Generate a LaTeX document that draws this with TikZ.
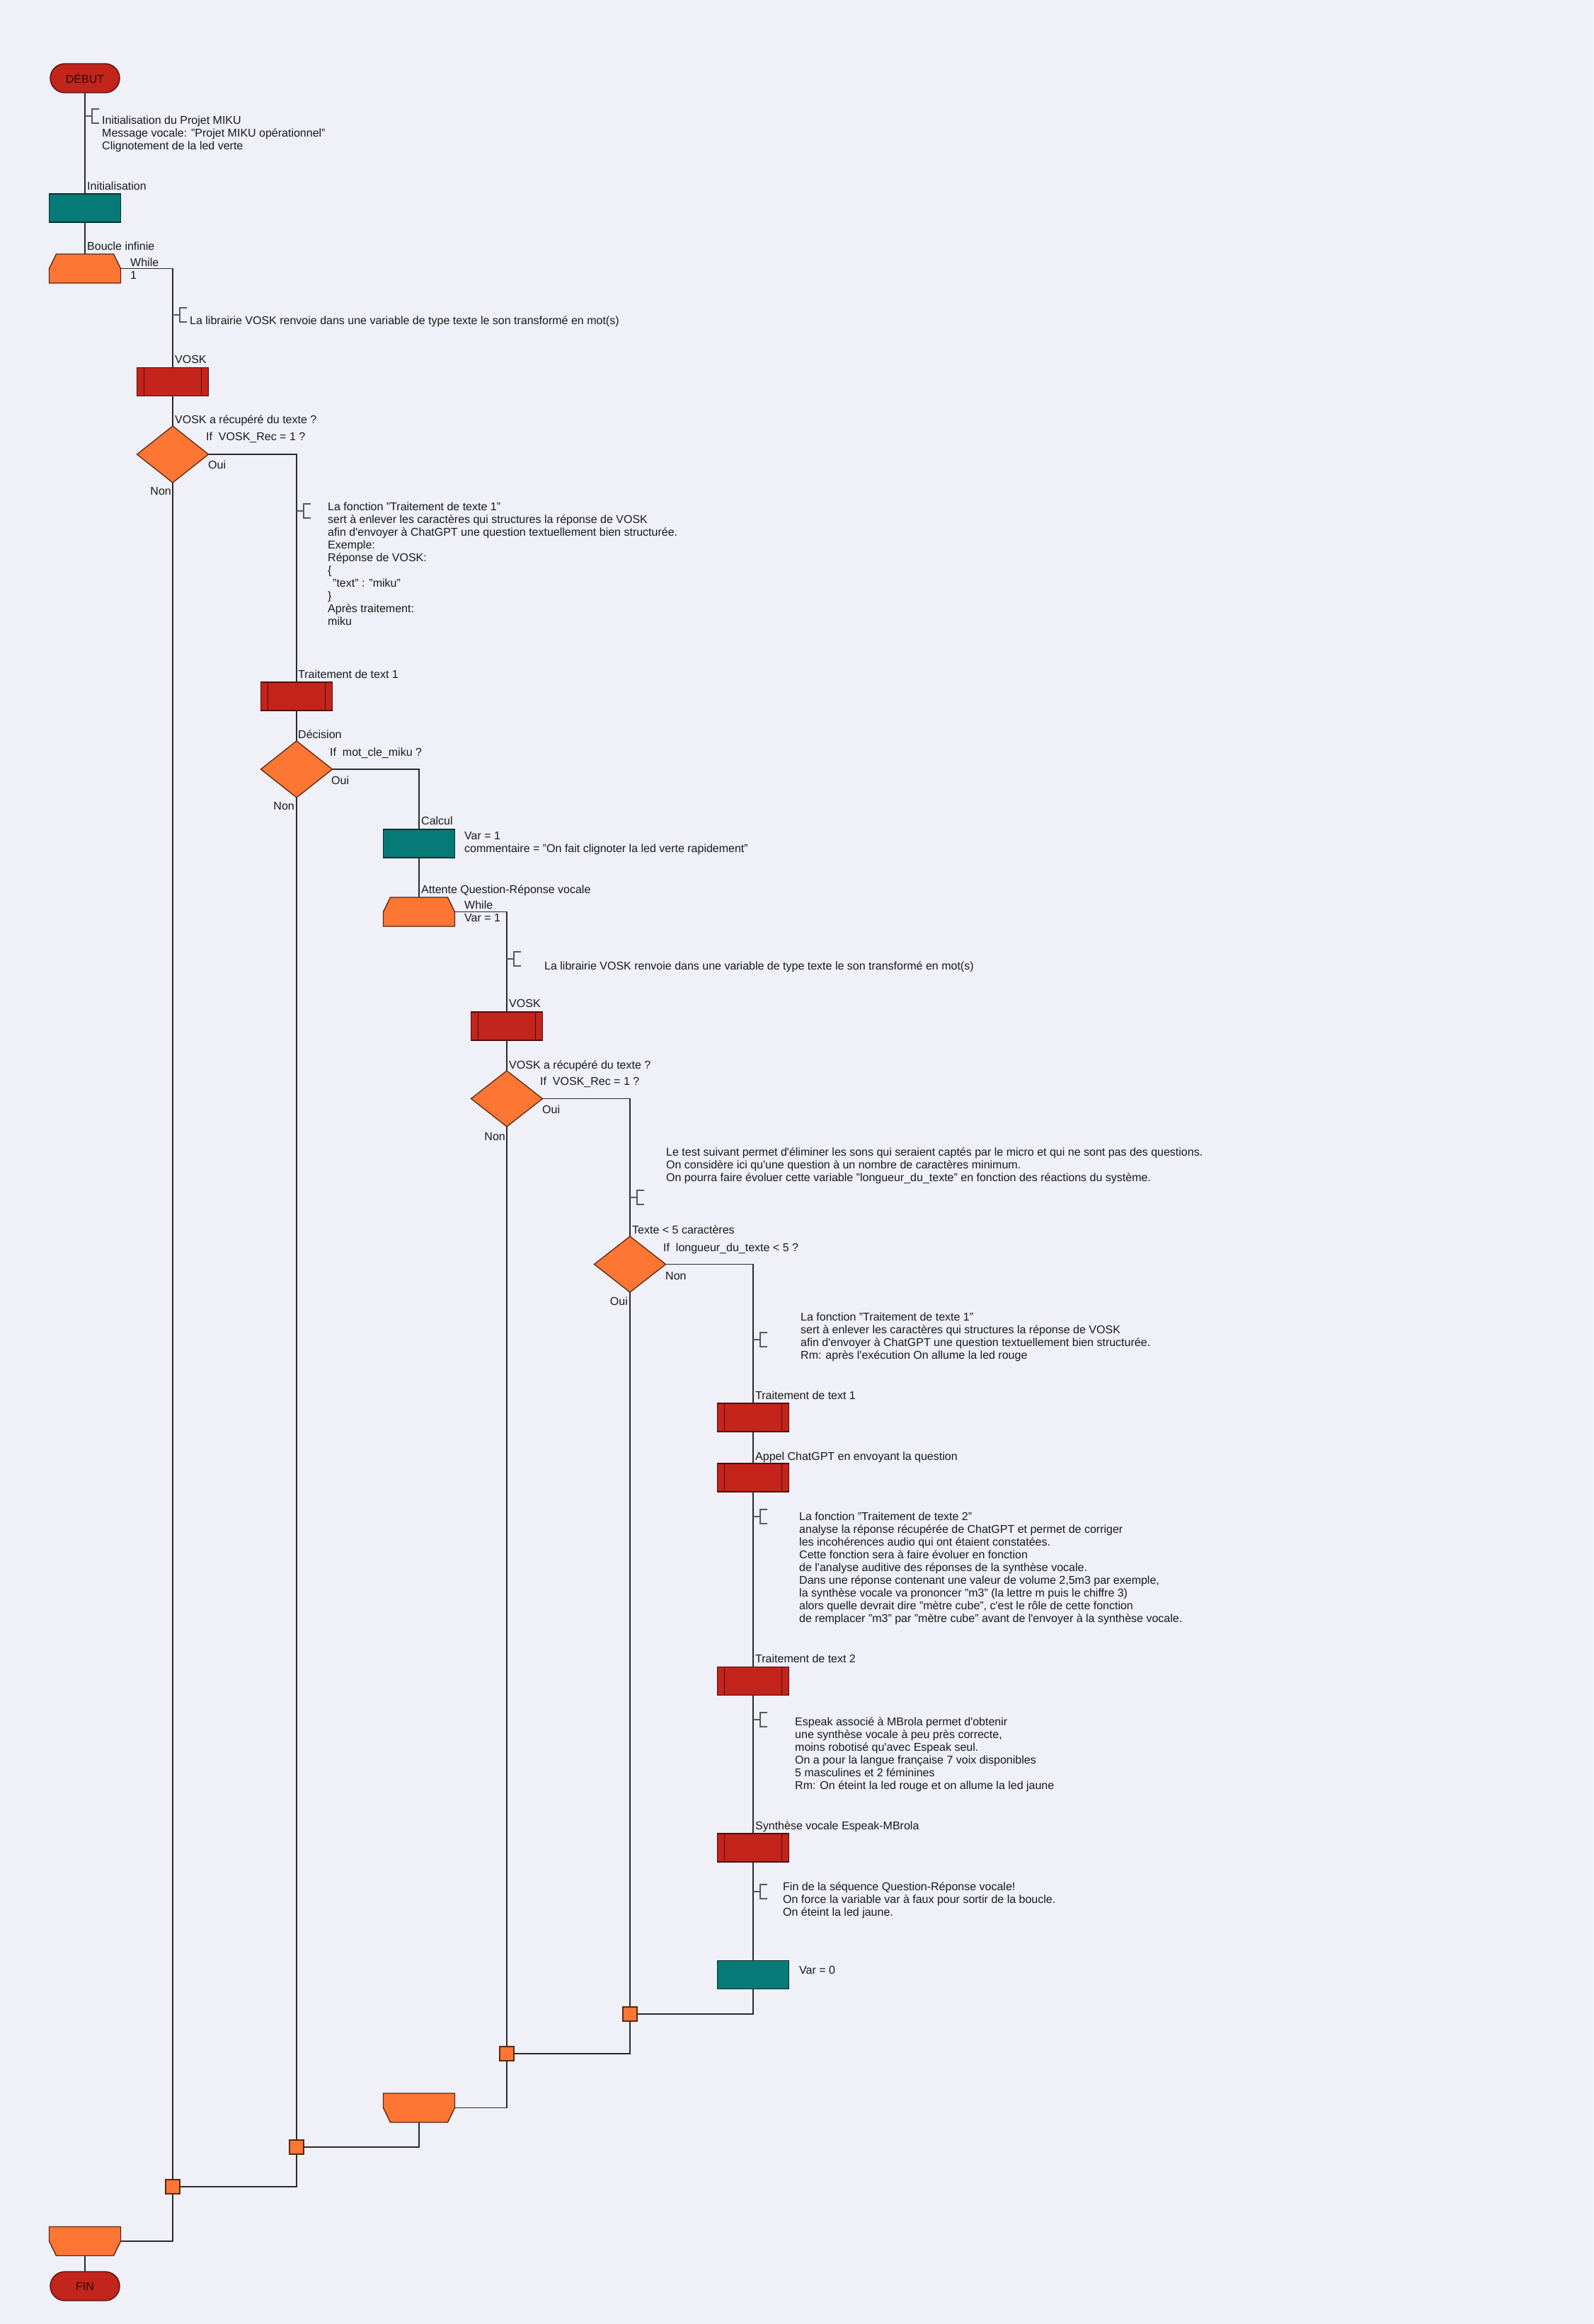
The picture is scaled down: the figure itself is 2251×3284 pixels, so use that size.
\documentclass[tikz,border=0pt]{standalone}
\usepackage{fontspec}
\setmainfont{Liberation Sans}
\usetikzlibrary{shapes.geometric,shapes.misc}
\definecolor{bgc}{HTML}{EFF0F8}
\definecolor{redc}{HTML}{C3241C}
\definecolor{tealc}{HTML}{067A77}
\definecolor{orc}{HTML}{FD7634}
\definecolor{linec}{HTML}{2B2B2B}
\definecolor{txtc}{HTML}{1A1A1A}
\newcommand\ap{\textquotesingle}
\newcommand\whiletop[1]{\filldraw[fill=orc,draw=orc!35!black,line width=1.4pt,line join=miter] (#1.south west) -- (#1.west) -- ([xshift=10pt]#1.north west) -- ([xshift=-10pt]#1.north east) -- (#1.east) -- (#1.south east) -- cycle;}
\newcommand\whilebot[1]{\filldraw[fill=orc,draw=orc!35!black,line width=1.4pt,line join=miter] (#1.north west) -- (#1.west) -- ([xshift=10pt]#1.south west) -- ([xshift=-10pt]#1.south east) -- (#1.east) -- (#1.north east) -- cycle;}
\newcommand\brkt[1]{\draw[brk] (#1) -- ++(10,0) ++(10,-10) -- ++(-10,0) -- ++(0,20) -- ++(10,0);}
\begin{document}
\begin{tikzpicture}[x=1pt,y=-1pt,
 conn/.style={draw=linec, line width=1.2pt},
 base/.style={inner sep=0pt, outer sep=0pt, line width=1.4pt},
 term/.style={base, rounded rectangle, minimum width=98pt, minimum height=41pt, fill=redc, draw=redc!45!black, font=\fontsize{16}{18}\selectfont, text=redc!25!black},
 proc/.style={base, rectangle, minimum width=101pt, minimum height=40pt, fill=tealc, draw=tealc!40!black},
 subr/.style={base, rectangle, minimum width=101pt, minimum height=40pt, fill=redc, draw=redc!40!black,
   path picture={\draw[line width=1.2pt, draw=redc!40!black] ([xshift=10pt]path picture bounding box.north west) -- ([xshift=10pt]path picture bounding box.south west) ([xshift=-10pt]path picture bounding box.north east) -- ([xshift=-10pt]path picture bounding box.south east);}},
 dec/.style={base, diamond, minimum width=101pt, minimum height=80pt, fill=orc, draw=orc!40!black},
 loopbox/.style={base, rectangle, minimum width=101pt, minimum height=41pt, draw=none, fill=none},
 junc/.style={base, rectangle, minimum width=20pt, minimum height=20pt, fill=orc, draw=orc!35!black},
 lbl/.style={anchor=north west, inner sep=0pt, align=left, font=\fontsize{16}{18}\selectfont, text=txtc, execute at begin node=\strut},
 lblr/.style={lbl, anchor=north east},
 brk/.style={draw=black!65, line width=1.2pt}
]
\fill[bgc] (0,0) rectangle (2251,3284);
\useasboundingbox (0,0) rectangle (2251,3284);

% ---- nodes ----
\node[term] (debut) at (120,110.5) {DÉBUT};
\node[proc] (init) at (120,294) {};
\node[loopbox] (w1) at (120,379.5) {};
\whiletop{w1}
\node[subr] (vosk1) at (244,539.5) {};
\node[dec] (d1) at (244,642) {};
\node[subr] (tt1) at (419,984) {};
\node[dec] (d2) at (419,1087) {};
\node[proc] (calc) at (592,1192) {};
\node[loopbox] (w2) at (592,1288.5) {};
\whiletop{w2}
\node[subr] (vosk2) at (716,1450) {};
\node[dec, minimum height=79pt] (d3) at (716,1552.5) {};
\node[dec, minimum height=79pt] (d4) at (890,1786.5) {};
\node[subr] (tt1b) at (1064,2003) {};
\node[subr] (gpt) at (1064,2088) {};
\node[subr] (tt2) at (1064,2375.5) {};
\node[subr] (synth) at (1064,2611) {};
\node[proc] (v0) at (1064,2790.5) {};
\node[junc] (j1) at (890,2846) {};
\node[junc] (j2) at (716,2902) {};
\node[loopbox] (ew2) at (592,2978.5) {};
\whilebot{ew2}
\node[junc] (j3) at (419,3034) {};
\node[junc] (j4) at (244,3090) {};
\node[loopbox] (ew1) at (120,3167) {};
\whilebot{ew1}
\node[term] (fin) at (120,3230.5) {FIN};

% ---- connectors ----
\draw[conn] (debut.south) -- (init.north);
\draw[conn] (init.south) -- (w1.north);
\draw[conn] (w1.east) -| (vosk1.north);
\draw[conn] (vosk1.south) -- (d1.north);
\draw[conn] (d1.east) -| (tt1.north);
\draw[conn] (tt1.south) -- (d2.north);
\draw[conn] (d2.east) -| (calc.north);
\draw[conn] (calc.south) -- (w2.north);
\draw[conn] (w2.east) -| (vosk2.north);
\draw[conn] (vosk2.south) -- (d3.north);
\draw[conn] (d3.east) -| (d4.north);
\draw[conn] (d4.east) -| (tt1b.north);
\draw[conn] (tt1b.south) -- (gpt.north);
\draw[conn] (gpt.south) -- (tt2.north);
\draw[conn] (tt2.south) -- (synth.north);
\draw[conn] (synth.south) -- (v0.north);
\draw[conn] (v0.south) |- (j1.east);
\draw[conn] (d4.south) -- (j1.north);
\draw[conn] (j1.south) |- (j2.east);
\draw[conn] (d3.south) -- (j2.north);
\draw[conn] (j2.south) |- (ew2.east);
\draw[conn] (ew2.south) |- (j3.east);
\draw[conn] (d2.south) -- (j3.north);
\draw[conn] (j3.south) |- (j4.east);
\draw[conn] (d1.south) -- (j4.north);
\draw[conn] (j4.south) |- (ew1.east);
\draw[conn] (ew1.south) -- (fin.north);

% ---- comment brackets ----
\coordinate (b1) at (120,164);
\coordinate (b2) at (244,445);
\coordinate (b3) at (419,722);
\coordinate (b4) at (716,1355);
\coordinate (b5) at (890,1692);
\coordinate (b6) at (1064,1893);
\coordinate (b7) at (1064,2143);
\coordinate (b8) at (1064,2430);
\coordinate (b9) at (1064,2673);
\brkt{b1}\brkt{b2}\brkt{b3}\brkt{b4}\brkt{b5}\brkt{b6}\brkt{b7}\brkt{b8}\brkt{b9}

% ---- texts ----
\node[lbl] (t1) at (144,163.5) {Initialisation du Projet MIKU\\Message vocale: "Projet MIKU opérationnel"\\Clignotement de la led verte};
\node[lbl] (t2) at (123,255.5) {Initialisation};
\node[lbl] (t3) at (123,340.5) {Boucle infinie};
\node[lbl] (t4) at (184,364.5) {While\\1};
\node[lbl] (t5) at (268,445.5) {La librairie VOSK renvoie dans une variable de type texte le son transformé en mot(s)};
\node[lbl] (t6) at (247,500.5) {VOSK};
\node[lbl] (t7) at (247,585.5) {VOSK a récupéré du texte ?};
\node[lbl] (t8) at (291,609.5) {If~~VOSK\_Rec = 1 ?};
\node[lbl] (t9a) at (294,649.5) {Oui};
\node[lblr] (t9b) at (242,686.5) {Non};
\node[lbl] (t10) at (463,709.5) {La fonction "Traitement de texte 1"\\sert à enlever les caractères qui structures la réponse de VOSK\\afin d\ap envoyer à ChatGPT une question textuellement bien structurée.\\Exemple:\\Réponse de VOSK:\\\{\\\hspace*{7pt}"text" : "miku"\\\}\\Après traitement:\\miku};
\node[lbl] (t11) at (421,945.5) {Traitement de text 1};
\node[lbl] (t12) at (421,1030.5) {Décision};
\node[lbl] (t13) at (466,1055.5) {If~~mot\_cle\_miku ?};
\node[lbl] (t14a) at (468,1095.5) {Oui};
\node[lblr] (t14b) at (416,1131.5) {Non};
\node[lbl] (t15) at (595,1152.5) {Calcul};
\node[lbl] (t16) at (656,1175.5) {Var = 1\\commentaire = "On fait clignoter la led verte rapidement"};
\node[lbl] (t17) at (595,1249.5) {Attente Question-Réponse vocale};
\node[lbl] (t18) at (656,1272.5) {While\\Var = 1};
\node[lbl] (t19) at (769,1357.5) {La librairie VOSK renvoie dans une variable de type texte le son transformé en mot(s)};
\node[lbl] (t20) at (719,1410.5) {VOSK};
\node[lbl] (t21) at (719,1497.5) {VOSK a récupéré du texte ?};
\node[lbl] (t22) at (763,1520.5) {If~~VOSK\_Rec = 1 ?};
\node[lbl] (t23a) at (766,1560.5) {Oui};
\node[lblr] (t23b) at (714,1598.5) {Non};
\node[lbl] (t24) at (941,1621.5) {Le test suivant permet d\ap éliminer les sons qui seraient captés par le micro et qui ne sont pas des questions.\\On considère ici qu\ap une question à un nombre de caractères minimum.\\On pourra faire évoluer cette variable "longueur\_du\_texte" en fonction des réactions du système.};
\node[lbl] (t25) at (893,1730.5) {Texte < 5 caractères};
\node[lbl] (t26) at (937,1755.5) {If~~longueur\_du\_texte < 5 ?};
\node[lbl] (t27a) at (940,1795.5) {Non};
\node[lblr] (t27b) at (887,1831.5) {Oui};
\node[lbl] (t28) at (1131,1854.5) {La fonction "Traitement de texte 1"\\sert à enlever les caractères qui structures la réponse de VOSK\\afin d\ap envoyer à ChatGPT une question textuellement bien structurée.\\Rm: après l\ap exécution On allume la led rouge};
\node[lbl] (t29) at (1067,1964.5) {Traitement de text 1};
\node[lbl] (t30) at (1067,2050.5) {Appel ChatGPT en envoyant la question};
\node[lbl] (t31) at (1129,2136.5) {La fonction "Traitement de texte 2"\\analyse la réponse récupérée de ChatGPT et permet de corriger\\les incohérences audio qui ont étaient constatées.\\Cette fonction sera à faire évoluer en fonction\\de l\ap analyse auditive des réponses de la synthèse vocale.\\Dans une réponse contenant une valeur de volume 2,5m3 par exemple,\\la synthèse vocale va prononcer "m3" (la lettre m puis le chiffre 3)\\alors quelle devrait dire "mètre cube", c\ap est le rôle de cette fonction\\de remplacer "m3" par "mètre cube" avant de l\ap envoyer à la synthèse vocale.};
\node[lbl] (t32) at (1067,2336.5) {Traitement de text 2};
\node[lbl] (t33) at (1123,2426.5) {Espeak associé à MBrola permet d\ap obtenir\\une synthèse vocale à peu près correcte,\\moins robotisé qu\ap avec Espeak seul.\\On a pour la langue française 7 voix disponibles\\5 masculines et 2 féminines\\Rm: On éteint la led rouge et on allume la led jaune};
\node[lbl] (t34) at (1067,2572.5) {Synthèse vocale Espeak-MBrola};
\node[lbl] (t35) at (1106,2659.5) {Fin de la séquence Question-Réponse vocale!\\On force la variable var à faux pour sortir de la boucle.\\On éteint la led jaune.};
\node[lbl] (t36) at (1129,2776.5) {Var = 0};
\end{tikzpicture}
\end{document}
